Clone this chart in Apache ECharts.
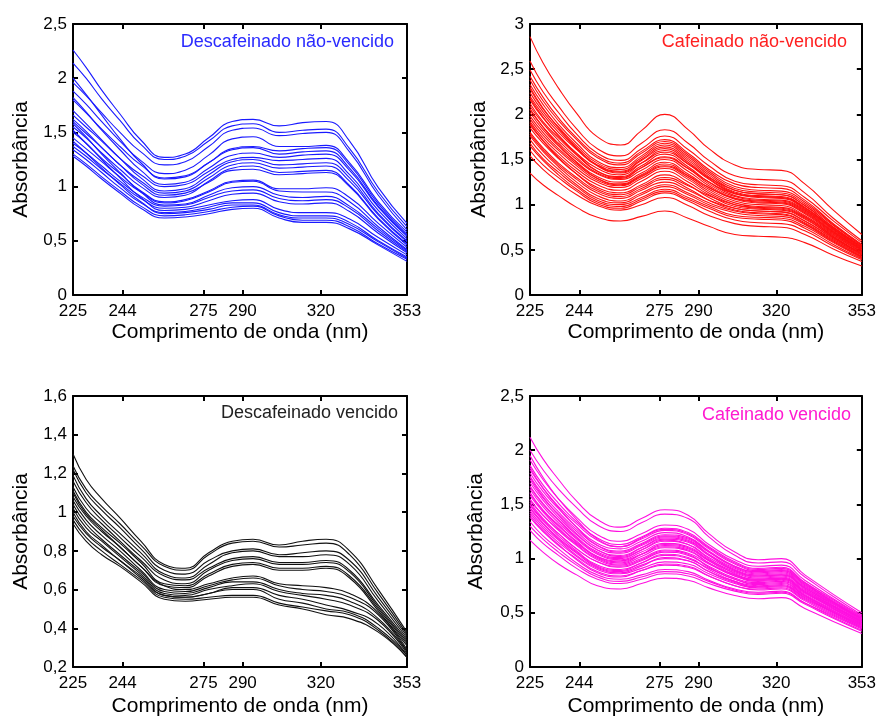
<!DOCTYPE html>
<html>
<head>
<meta charset="utf-8">
<script src="https://cdn.jsdelivr.net/npm/echarts@6/dist/echarts.min.js"></script>
<style>
html,body{margin:0;padding:0;background:#fff;}
#chart{width:879px;height:718px;}
</style>
</head>
<body>
<div id="chart"></div>
<script>
// wavelengths (nm) at which each spectrum is sampled
const wavelengths = [225,230,236,243,251,260,268,277,286,294,304,313,322,331,342,353];
const xTicks = [225,244,275,290,320,353];

// Descafeinado não-vencido (blue)
const descafNaoVencido = [
[2.26,2.10,1.89,1.67,1.43,1.27,1.30,1.45,1.60,1.62,1.56,1.59,1.60,1.42,0.99,0.66],
[2.14,2.00,1.81,1.61,1.39,1.25,1.28,1.42,1.56,1.58,1.50,1.52,1.53,1.35,0.95,0.63],
[1.96,1.84,1.68,1.50,1.32,1.20,1.23,1.37,1.52,1.54,1.47,1.49,1.50,1.32,0.92,0.60],
[1.88,1.76,1.60,1.42,1.24,1.12,1.15,1.29,1.44,1.46,1.37,1.37,1.38,1.22,0.86,0.58],
[2.00,1.85,1.66,1.44,1.22,1.07,1.09,1.22,1.35,1.37,1.33,1.35,1.36,1.20,0.84,0.56],
[1.80,1.68,1.53,1.37,1.20,1.08,1.10,1.22,1.34,1.36,1.30,1.32,1.33,1.17,0.82,0.55],
[1.82,1.69,1.52,1.34,1.15,1.02,1.04,1.17,1.29,1.31,1.27,1.29,1.30,1.15,0.81,0.54],
[1.66,1.55,1.42,1.26,1.11,1.00,1.02,1.14,1.25,1.27,1.24,1.25,1.26,1.11,0.78,0.52],
[1.70,1.58,1.43,1.26,1.08,0.96,0.98,1.11,1.23,1.25,1.20,1.21,1.22,1.08,0.75,0.50],
[1.60,1.49,1.36,1.20,1.05,0.94,0.96,1.08,1.20,1.22,1.17,1.18,1.19,1.05,0.74,0.49],
[1.55,1.45,1.31,1.16,1.00,0.90,0.92,1.05,1.17,1.19,1.13,1.14,1.15,1.01,0.71,0.47],
[1.62,1.51,1.36,1.20,1.03,0.92,0.94,1.04,1.15,1.16,1.11,1.12,1.13,1.00,0.70,0.46],
[1.50,1.40,1.26,1.12,0.96,0.86,0.88,0.96,1.05,1.06,0.98,0.98,0.99,0.90,0.66,0.44],
[1.45,1.35,1.23,1.09,0.95,0.85,0.87,0.95,1.04,1.05,0.96,0.95,0.95,0.86,0.63,0.42],
[1.58,1.46,1.30,1.13,0.95,0.83,0.84,0.92,0.99,1.00,0.92,0.90,0.91,0.82,0.61,0.41],
[1.40,1.31,1.19,1.05,0.91,0.82,0.83,0.90,0.96,0.97,0.89,0.87,0.88,0.80,0.59,0.40],
[1.37,1.28,1.16,1.03,0.89,0.80,0.81,0.87,0.93,0.94,0.86,0.84,0.85,0.77,0.57,0.39],
[1.52,1.40,1.25,1.08,0.90,0.78,0.79,0.83,0.87,0.88,0.79,0.76,0.76,0.70,0.53,0.37],
[1.34,1.25,1.13,0.99,0.85,0.76,0.77,0.81,0.85,0.85,0.76,0.73,0.73,0.67,0.50,0.35],
[1.42,1.31,1.17,1.02,0.86,0.75,0.76,0.79,0.83,0.83,0.74,0.71,0.71,0.65,0.49,0.34],
[1.30,1.21,1.09,0.96,0.82,0.73,0.74,0.77,0.81,0.82,0.73,0.69,0.69,0.63,0.47,0.33],
[1.28,1.19,1.07,0.94,0.80,0.71,0.72,0.75,0.79,0.80,0.71,0.67,0.67,0.61,0.46,0.31]
];

// Cafeinado não-vencido (red)
const cafNaoVencido = [
[2.86,2.57,2.29,2.01,1.75,1.66,1.82,2.00,1.83,1.62,1.44,1.39,1.38,1.23,0.94,0.67],
[2.59,2.33,2.09,1.84,1.62,1.54,1.68,1.83,1.68,1.49,1.32,1.28,1.27,1.13,0.85,0.60],
[2.49,2.25,2.02,1.78,1.57,1.49,1.62,1.76,1.61,1.43,1.26,1.22,1.21,1.08,0.82,0.58],
[2.42,2.19,1.96,1.74,1.54,1.46,1.59,1.72,1.57,1.39,1.23,1.19,1.18,1.05,0.79,0.56],
[2.38,2.15,1.93,1.72,1.52,1.44,1.57,1.70,1.55,1.37,1.20,1.16,1.15,1.03,0.78,0.55],
[2.33,2.11,1.89,1.68,1.48,1.41,1.54,1.68,1.53,1.35,1.18,1.14,1.13,1.01,0.77,0.55],
[2.30,2.07,1.85,1.63,1.43,1.35,1.46,1.58,1.45,1.30,1.16,1.12,1.11,0.99,0.75,0.53],
[2.28,2.06,1.86,1.65,1.46,1.39,1.52,1.66,1.51,1.33,1.16,1.12,1.11,0.99,0.75,0.54],
[2.24,2.03,1.83,1.62,1.44,1.37,1.50,1.64,1.49,1.31,1.14,1.10,1.09,0.97,0.74,0.53],
[2.20,2.00,1.80,1.61,1.43,1.36,1.49,1.62,1.47,1.29,1.13,1.09,1.08,0.96,0.73,0.52],
[2.18,1.97,1.76,1.56,1.37,1.30,1.41,1.52,1.40,1.25,1.12,1.09,1.08,0.97,0.73,0.52],
[2.16,1.96,1.77,1.57,1.40,1.33,1.46,1.60,1.45,1.28,1.12,1.08,1.07,0.95,0.72,0.51],
[2.12,1.92,1.74,1.55,1.37,1.31,1.43,1.56,1.42,1.25,1.10,1.06,1.05,0.94,0.71,0.50],
[2.09,1.90,1.71,1.52,1.35,1.29,1.41,1.53,1.40,1.23,1.09,1.05,1.04,0.93,0.70,0.50],
[2.06,1.86,1.66,1.47,1.29,1.22,1.32,1.43,1.32,1.19,1.07,1.04,1.03,0.92,0.70,0.50],
[2.05,1.86,1.68,1.50,1.34,1.28,1.38,1.50,1.37,1.21,1.07,1.03,1.02,0.91,0.69,0.49],
[2.02,1.83,1.65,1.47,1.31,1.25,1.35,1.47,1.34,1.19,1.06,1.02,1.01,0.90,0.68,0.48],
[1.98,1.80,1.62,1.45,1.29,1.23,1.33,1.45,1.32,1.17,1.04,1.00,0.99,0.88,0.67,0.47],
[1.95,1.77,1.60,1.43,1.27,1.21,1.31,1.42,1.30,1.15,1.02,0.98,0.97,0.87,0.65,0.46],
[1.92,1.74,1.57,1.40,1.25,1.19,1.29,1.40,1.28,1.13,1.00,0.96,0.95,0.85,0.64,0.45],
[1.90,1.71,1.52,1.34,1.17,1.11,1.20,1.30,1.21,1.10,1.00,0.97,0.96,0.86,0.66,0.47],
[1.88,1.71,1.54,1.37,1.22,1.16,1.26,1.37,1.25,1.11,0.98,0.95,0.94,0.84,0.64,0.45],
[1.85,1.68,1.51,1.34,1.19,1.13,1.22,1.33,1.22,1.08,0.96,0.93,0.92,0.82,0.62,0.44],
[1.80,1.63,1.46,1.30,1.15,1.09,1.18,1.28,1.18,1.05,0.94,0.91,0.90,0.80,0.61,0.43],
[1.78,1.61,1.44,1.28,1.13,1.07,1.16,1.25,1.16,1.05,0.96,0.93,0.92,0.82,0.63,0.45],
[1.76,1.59,1.42,1.25,1.10,1.04,1.13,1.22,1.13,1.02,0.93,0.90,0.89,0.79,0.60,0.42],
[1.72,1.55,1.39,1.22,1.07,1.02,1.11,1.20,1.11,1.00,0.91,0.88,0.87,0.78,0.59,0.42],
[1.68,1.51,1.36,1.20,1.05,1.00,1.08,1.17,1.08,0.98,0.88,0.86,0.85,0.76,0.58,0.41],
[1.65,1.49,1.33,1.17,1.03,0.98,1.06,1.15,1.06,0.96,0.86,0.84,0.83,0.74,0.56,0.40],
[1.60,1.44,1.30,1.15,1.01,0.96,1.04,1.13,1.04,0.93,0.83,0.80,0.79,0.71,0.54,0.39],
[1.54,1.39,1.25,1.11,0.99,0.94,1.00,1.08,0.99,0.88,0.79,0.76,0.75,0.67,0.51,0.37],
[1.35,1.22,1.10,0.97,0.86,0.82,0.87,0.93,0.85,0.76,0.67,0.65,0.64,0.58,0.44,0.32]
];

// Descafeinado vencido (black)
const descafVencido = [
[1.30,1.17,1.07,0.97,0.85,0.73,0.71,0.79,0.85,0.86,0.83,0.85,0.86,0.80,0.60,0.38],
[1.24,1.12,1.03,0.94,0.83,0.72,0.70,0.78,0.84,0.85,0.82,0.83,0.84,0.78,0.58,0.37],
[1.22,1.10,1.01,0.92,0.81,0.70,0.68,0.75,0.80,0.81,0.78,0.79,0.80,0.75,0.56,0.36],
[1.19,1.07,0.98,0.89,0.79,0.68,0.66,0.73,0.79,0.80,0.77,0.77,0.78,0.73,0.54,0.35],
[1.16,1.05,0.96,0.87,0.77,0.67,0.65,0.71,0.76,0.77,0.74,0.74,0.75,0.70,0.52,0.34],
[1.13,1.02,0.94,0.85,0.75,0.65,0.63,0.70,0.75,0.76,0.73,0.73,0.74,0.69,0.51,0.33],
[1.11,1.00,0.92,0.84,0.74,0.63,0.62,0.68,0.73,0.74,0.71,0.71,0.72,0.67,0.50,0.32],
[1.08,0.98,0.90,0.82,0.72,0.62,0.61,0.67,0.72,0.73,0.70,0.70,0.71,0.66,0.49,0.31],
[1.10,0.99,0.91,0.82,0.72,0.62,0.60,0.63,0.66,0.67,0.63,0.62,0.61,0.58,0.48,0.29],
[1.06,0.96,0.88,0.80,0.70,0.60,0.59,0.62,0.65,0.66,0.62,0.60,0.59,0.56,0.47,0.28],
[1.04,0.94,0.86,0.78,0.69,0.59,0.58,0.61,0.64,0.64,0.60,0.58,0.57,0.54,0.45,0.28],
[1.02,0.92,0.85,0.77,0.68,0.58,0.57,0.60,0.62,0.63,0.59,0.57,0.55,0.52,0.44,0.27],
[1.00,0.90,0.83,0.75,0.67,0.57,0.56,0.58,0.61,0.61,0.57,0.55,0.52,0.49,0.42,0.26],
[0.98,0.89,0.82,0.75,0.66,0.57,0.56,0.58,0.60,0.60,0.55,0.53,0.50,0.48,0.40,0.26],
[0.96,0.87,0.80,0.73,0.65,0.56,0.55,0.56,0.57,0.57,0.53,0.51,0.49,0.47,0.39,0.25],
[0.94,0.85,0.78,0.72,0.64,0.55,0.54,0.55,0.56,0.56,0.52,0.50,0.47,0.45,0.38,0.25]
];

// Cafeinado vencido (magenta)
const cafVencido = [
[2.12,1.92,1.73,1.53,1.36,1.29,1.37,1.45,1.40,1.23,1.06,0.99,1.00,0.85,0.67,0.50],
[2.00,1.82,1.64,1.47,1.31,1.25,1.33,1.41,1.37,1.20,1.03,0.96,0.97,0.83,0.65,0.48],
[1.95,1.75,1.55,1.36,1.18,1.11,1.19,1.27,1.23,1.10,0.96,0.90,0.91,0.78,0.61,0.46],
[1.91,1.73,1.55,1.38,1.22,1.16,1.23,1.31,1.27,1.13,0.99,0.93,0.94,0.80,0.63,0.47],
[1.86,1.68,1.51,1.34,1.19,1.13,1.20,1.28,1.24,1.11,0.97,0.91,0.92,0.78,0.62,0.46],
[1.84,1.65,1.47,1.29,1.12,1.06,1.13,1.21,1.18,1.06,0.93,0.88,0.89,0.76,0.60,0.45],
[1.82,1.65,1.48,1.32,1.17,1.11,1.18,1.26,1.22,1.09,0.95,0.89,0.90,0.77,0.60,0.45],
[1.79,1.62,1.46,1.29,1.14,1.09,1.16,1.24,1.20,1.07,0.93,0.88,0.89,0.76,0.60,0.45],
[1.76,1.59,1.43,1.27,1.12,1.07,1.14,1.22,1.19,1.06,0.92,0.87,0.88,0.75,0.59,0.44],
[1.75,1.57,1.40,1.23,1.08,1.02,1.10,1.19,1.16,1.03,0.89,0.84,0.85,0.73,0.58,0.44],
[1.73,1.56,1.41,1.25,1.10,1.05,1.12,1.20,1.17,1.04,0.91,0.86,0.87,0.74,0.59,0.44],
[1.70,1.54,1.38,1.22,1.08,1.03,1.10,1.18,1.15,1.03,0.90,0.85,0.86,0.73,0.58,0.43],
[1.67,1.51,1.36,1.20,1.06,1.01,1.08,1.16,1.13,1.01,0.89,0.84,0.85,0.73,0.57,0.43],
[1.66,1.50,1.35,1.19,1.05,1.00,1.08,1.17,1.13,1.00,0.86,0.81,0.82,0.70,0.56,0.42],
[1.64,1.48,1.33,1.18,1.04,0.99,1.06,1.14,1.11,0.99,0.88,0.83,0.84,0.72,0.56,0.42],
[1.61,1.45,1.31,1.16,1.02,0.97,1.04,1.12,1.09,0.98,0.87,0.82,0.83,0.71,0.56,0.42],
[1.60,1.44,1.30,1.15,1.01,0.96,1.04,1.13,1.10,0.98,0.85,0.80,0.81,0.69,0.55,0.41],
[1.58,1.43,1.28,1.13,1.00,0.95,1.02,1.10,1.07,0.96,0.85,0.81,0.82,0.70,0.55,0.41],
[1.55,1.40,1.26,1.12,0.99,0.94,1.00,1.08,1.05,0.95,0.84,0.80,0.81,0.69,0.54,0.40],
[1.54,1.40,1.27,1.14,1.02,0.98,1.04,1.11,1.08,0.96,0.84,0.79,0.80,0.68,0.54,0.40],
[1.52,1.37,1.23,1.09,0.97,0.92,0.98,1.06,1.03,0.93,0.82,0.78,0.79,0.67,0.53,0.40],
[1.50,1.36,1.23,1.09,0.97,0.93,0.99,1.07,1.04,0.92,0.81,0.76,0.77,0.66,0.52,0.39],
[1.49,1.35,1.21,1.07,0.94,0.90,0.96,1.03,1.00,0.91,0.81,0.77,0.78,0.66,0.52,0.39],
[1.47,1.33,1.19,1.06,0.93,0.89,0.96,1.04,1.01,0.90,0.79,0.74,0.75,0.64,0.51,0.38],
[1.46,1.32,1.18,1.05,0.92,0.88,0.94,1.00,0.98,0.88,0.79,0.75,0.76,0.65,0.51,0.38],
[1.44,1.30,1.17,1.03,0.91,0.87,0.93,1.01,0.98,0.88,0.78,0.74,0.75,0.64,0.50,0.37],
[1.42,1.28,1.15,1.02,0.90,0.86,0.91,0.97,0.95,0.86,0.77,0.73,0.74,0.63,0.50,0.37],
[1.40,1.26,1.13,0.99,0.87,0.83,0.89,0.95,0.93,0.84,0.75,0.71,0.72,0.61,0.48,0.36],
[1.38,1.25,1.12,1.00,0.88,0.84,0.89,0.94,0.92,0.84,0.75,0.72,0.73,0.62,0.49,0.36],
[1.34,1.21,1.09,0.96,0.85,0.81,0.85,0.90,0.88,0.80,0.72,0.69,0.70,0.59,0.46,0.34],
[1.30,1.18,1.06,0.94,0.83,0.79,0.83,0.88,0.86,0.79,0.71,0.68,0.69,0.59,0.47,0.35],
[1.26,1.14,1.03,0.91,0.81,0.77,0.81,0.86,0.84,0.77,0.70,0.67,0.68,0.58,0.45,0.33],
[1.17,1.06,0.95,0.85,0.75,0.72,0.77,0.82,0.80,0.73,0.66,0.63,0.64,0.54,0.42,0.31]
];

const panelLabels = ['Descafeinado não-vencido','Cafeinado não-vencido','Descafeinado vencido','Cafeinado vencido'];
const yRanges = [[0,2.5,0.5],[0,3,0.5],[0.2,1.6,0.2],[0,2.5,0.5]];
const xAxisName = 'Comprimento de onda (nm)';
const yAxisName = 'Absorbância';

const FONT = '"Liberation Sans", Arial, Helvetica, sans-serif';
const panels = [
  {data: descafNaoVencido, color: '#1a1aff', text: '#2a2aff', grid: {left:73, top:24, width:334, height:271}, lx:394, ly:42, nameGapX:27, nameGapY:41},
  {data: cafNaoVencido,    color: '#ff1010', text: '#ff2020', grid: {left:530, top:24, width:334, height:271}, lx:847, ly:42, nameGapX:27, nameGapY:40},
  {data: descafVencido,    color: '#111111', text: '#222222', grid: {left:73, top:396, width:334, height:271}, lx:398, ly:413, nameGapX:29, nameGapY:41},
  {data: cafVencido,       color: '#ff10e0', text: '#ff1ad0', grid: {left:530, top:396, width:334, height:271}, lx:851, ly:415, nameGapX:29, nameGapY:43}
];

const grids = [], xAxes = [], yAxes = [], series = [], graphics = [];
const fmt = v => String(Number(v.toFixed(1))).replace('.', ',');

panels.forEach((p, i) => {
  grids.push(Object.assign({containLabel:false}, p.grid));
  const [ymin, ymax, yint] = yRanges[i];
  const lineStyle = {color:'#000', width:2};
  const tick = {show:true, inside:true, length:5, lineStyle:{color:'#000', width:2}, customValues: xTicks};
  xAxes.push({
    type:'value', gridIndex:i, position:'bottom', min:225, max:353,
    axisLine:{show:true, onZero:false, lineStyle},
    axisTick: tick,
    axisLabel:{show:true, customValues: xTicks, color:'#000', fontSize:17, fontFamily:FONT, margin:8},
    splitLine:{show:false},
    name: xAxisName, nameLocation:'middle', nameGap:p.nameGapX,
    nameTextStyle:{color:'#000', fontSize:21, fontFamily:FONT}
  });
  xAxes.push({
    type:'value', gridIndex:i, position:'top', min:225, max:353,
    axisLine:{show:true, onZero:false, lineStyle},
    axisTick: tick,
    axisLabel:{show:false, customValues: xTicks},
    splitLine:{show:false}
  });
  const ytick = {show:true, inside:true, length:5, lineStyle:{color:'#000', width:2}};
  yAxes.push({
    type:'value', gridIndex:i, position:'left', min:ymin, max:ymax, interval:yint,
    axisLine:{show:true, onZero:false, lineStyle},
    axisTick: ytick,
    axisLabel:{color:'#000', fontSize:17, fontFamily:FONT, margin:6, formatter: fmt},
    splitLine:{show:false},
    name: yAxisName, nameLocation:'middle', nameGap:p.nameGapY, nameRotate:90,
    nameTextStyle:{color:'#000', fontSize:21, fontFamily:FONT}
  });
  yAxes.push({
    type:'value', gridIndex:i, position:'right', min:ymin, max:ymax, interval:yint,
    axisLine:{show:true, onZero:false, lineStyle},
    axisTick: ytick,
    axisLabel:{show:false},
    splitLine:{show:false}
  });
  p.data.forEach(curve => {
    series.push({
      type:'line', xAxisIndex:2*i, yAxisIndex:2*i,
      data: curve.map((v, k) => [wavelengths[k], v]),
      smooth:0.5, showSymbol:false, symbol:'none', silent:true,
      lineStyle:{color:p.color, width:1.1},
      z:1
    });
  });
  graphics.push({
    type:'text', x:p.lx, y:p.ly, z:100,
    style:{text:panelLabels[i], fill:p.text, font:'18px ' + FONT, textAlign:'right', textVerticalAlign:'middle'}
  });
});

const chart = echarts.init(document.getElementById('chart'), null, {renderer:'canvas'});
chart.setOption({
  animation:false,
  backgroundColor:'#fff',
  grid: grids,
  xAxis: xAxes,
  yAxis: yAxes,
  series: series,
  graphic: graphics
});
</script>
</body>
</html>
